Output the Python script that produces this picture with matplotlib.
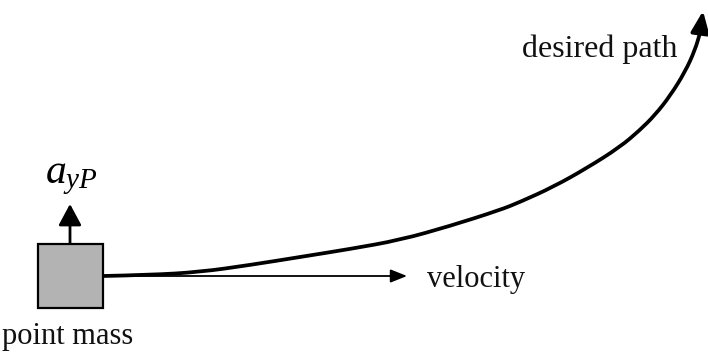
import matplotlib
matplotlib.use("Agg")
import matplotlib.pyplot as plt
from matplotlib.patches import Rectangle, FancyArrowPatch
from matplotlib.path import Path

plt.rcParams['font.family'] = ['Liberation Serif', 'DejaVu Serif']
plt.rcParams['mathtext.fontset'] = 'custom'
plt.rcParams['mathtext.rm'] = 'Liberation Serif'
plt.rcParams['mathtext.it'] = 'Liberation Serif:italic'

# desired path points (pixel-space, y downward)
path_x = [103, 150, 200, 250, 300, 350, 400, 450, 500, 520, 553, 587, 620, 640, 655, 670, 685, 695, 700]
path_y = [276, 275, 272, 265, 257, 249, 240, 226, 210, 202, 187, 168, 147, 130, 115, 96, 72, 50, 33]
path_tip = (703, 11)

# point mass box
box_x, box_y, box_w, box_h = 38, 244, 65, 64
# velocity arrow
vel_start, vel_end, vel_y = 103, 407, 276
# acceleration arrow
acc_x, acc_start, acc_end = 70, 244, 204

labels = {
    "desired path": (522, 57, 23),
    "velocity": (427, 287, 22),
    "point mass": (2, 344, 22),
}

fig = plt.figure(figsize=(7.08, 3.55), dpi=100)
ax = fig.add_axes([0, 0, 1, 1])
ax.set_xlim(0, 708)
ax.set_ylim(355, 0)
ax.axis('off')

ax.add_patch(Rectangle((box_x, box_y), box_w, box_h, facecolor='#b3b3b3',
                       edgecolor='black', linewidth=1.6, zorder=3))

# velocity arrow
ax.add_patch(FancyArrowPatch((vel_start, vel_y), (vel_end, vel_y),
                             arrowstyle='-|>,head_length=10,head_width=4',
                             mutation_scale=1, lw=1.3, color='black',
                             shrinkA=0, shrinkB=0))

# acceleration arrow
ax.add_patch(FancyArrowPatch((acc_x, acc_start), (acc_x, acc_end),
                             arrowstyle='-|>,head_length=13,head_width=7',
                             mutation_scale=1, lw=2.0, color='black',
                             shrinkA=0, shrinkB=0))

# desired path curve: smooth quadratic spline through the read points
pts = list(zip(path_x, path_y))
verts = [pts[0]]
codes = [Path.MOVETO]
for i in range(1, len(pts) - 1):
    mid = ((pts[i][0] + pts[i + 1][0]) / 2, (pts[i][1] + pts[i + 1][1]) / 2)
    verts += [pts[i], mid]
    codes += [Path.CURVE3, Path.CURVE3]
verts += [pts[-1], path_tip]
codes += [Path.LINETO, Path.LINETO]
ax.add_patch(FancyArrowPatch(path=Path(verts, codes),
                             arrowstyle='-|>,head_length=13,head_width=5.5',
                             mutation_scale=1, lw=2.7, color='black',
                             joinstyle='round', capstyle='round'))

for txt, (x, y, fs) in labels.items():
    ax.text(x, y, txt, fontsize=fs, ha='left', va='baseline', color='#111111')

ax.text(45, 183, r'$a_{yP}$', fontsize=30, ha='left', va='baseline')

fig.savefig('out.png', dpi=100)
